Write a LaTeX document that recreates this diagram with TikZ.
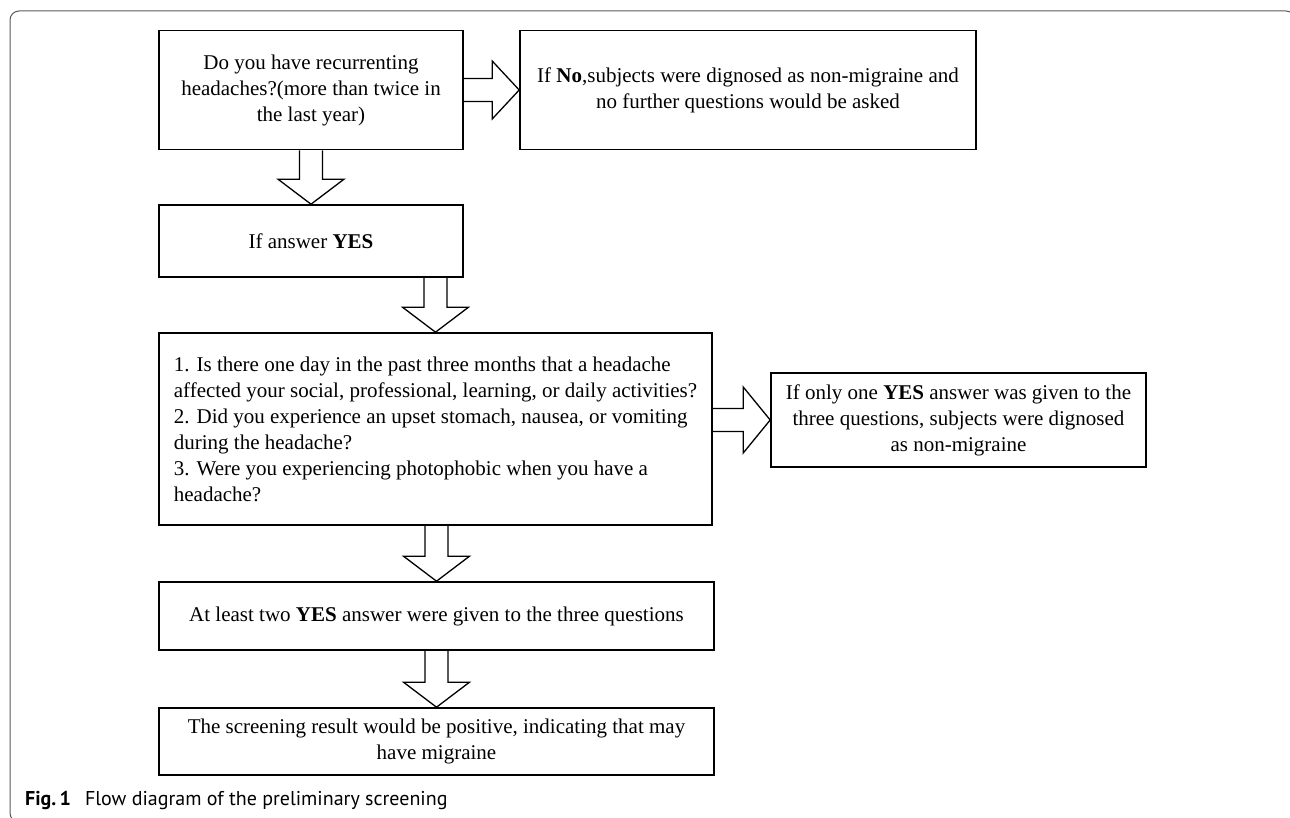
\documentclass[tikz,border=0pt]{standalone}
\usepackage{fontspec}
\setmainfont{Liberation Serif}
\newfontfamily\capfont{PT Sans}
\usetikzlibrary{calc}

\begin{document}
\begin{tikzpicture}[x=1pt,y=-1pt]
 \tikzset{box/.style = {draw,line width=1.6pt,inner sep=0pt,align=center,font=\fontsize{21}{26}\selectfont}}
 \tikzset{fatdown/.style = {draw,line width=1.3pt,to path={let \p1=(\tikztostart), \p2=(\tikztotarget) in
   (\x2-11.5pt,\y1) -- (\x2-11.5pt,\y2+25pt) -- (\x2-33pt,\y2+25pt) -- (\x2,\y2)
   -- (\x2+33pt,\y2+25pt) -- (\x2+11.5pt,\y2+25pt) -- (\x2+11.5pt,\y1)}}}
 \tikzset{fatright/.style = {draw,line width=1.3pt,to path={let \p1=(\tikztostart), \p2=(\tikztotarget) in
   (\x1,\y2+11.5pt) -- (\x2-27pt,\y2+11.5pt) -- (\x2-27pt,\y2+#1) -- (\x2,\y2)
   -- (\x2-27pt,\y2-#1) -- (\x2-27pt,\y2-11.5pt) -- (\x1,\y2-11.5pt)}}}
 \useasboundingbox (0,0) rectangle (1290,818);
 \begin{scope}
  \clip (0,0) rectangle (1290,818);
  \draw[line width=1pt,black!65,rounded corners=9pt] (10,11) rectangle (1295,822);
 \end{scope}

 \node[box,minimum width=304pt,minimum height=119pt] (q1) at (311,90)
  {Do you have recurrenting\\headaches?(more than twice in\\the last year)};
 \node[box,minimum width=456pt,minimum height=119pt] (no) at (748,90)
  {If \textbf{No},subjects were dignosed as non-migraine and\\no further questions would be asked};
 \node[box,minimum width=304pt,minimum height=72pt] (yes) at (311,241) {If answer \textbf{YES}};
 \node[box,minimum width=553pt,minimum height=192pt,align=left] (qs) at (435.5,429)
  {1. Is there one day in the past three months that a headache\\
   affected your social, professional, learning, or daily activities?\\
   2. Did you experience an upset stomach, nausea, or vomiting\\
   during the headache?\\
   3. Were you experiencing photophobic when you have a\\
   headache?};
 \node[box,minimum width=375pt,minimum height=94pt] (one) at (958.5,420)
  {If only one \textbf{YES} answer was given to the\\three questions, subjects were dignosed\\as non-migraine};
 \node[box,minimum width=555pt,minimum height=68pt] (two) at (436.5,616)
  {At least two \textbf{YES} answer were given to the three questions};
 \node[box,minimum width=555pt,minimum height=67pt] (pos) at (436.5,741.5)
  {The screening result would be positive, indicating that may\\have migraine};

 \draw[fatright=29pt] (q1.east) to (no.west);
 \draw[fatdown] (q1.south) to (yes.north);
 \draw[fatdown] (yes.south) to (qs.north);
 \draw[fatright=33pt] (qs.east |- one.west) to (one.west);
 \draw[fatdown] (qs.south) to (two.north);
 \draw[fatdown] (two.south) to (pos.north);

 \node[anchor=west,inner sep=0pt,font=\capfont\fontsize{20}{24}\selectfont] (cap) at (25,800)
  {\textbf{Fig.\,1}\hspace{0.7em}Flow diagram of the preliminary screening};
\end{tikzpicture}
\end{document}
